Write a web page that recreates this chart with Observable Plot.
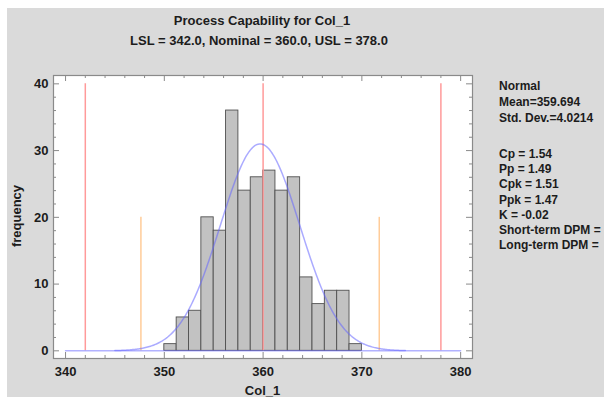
<!DOCTYPE html>
<html><head><meta charset="utf-8">
<script src="https://cdn.jsdelivr.net/npm/d3@7"></script>
<script src="https://cdn.jsdelivr.net/npm/@observablehq/plot@0.6"></script>
<style>
html,body{margin:0;padding:0;background:#fff;width:604px;height:397px;overflow:hidden;position:relative;}
#bg{position:absolute;left:7px;top:8px;width:597px;height:389px;background:#dadada;}
#chart{position:absolute;left:0;top:0;}
.t{position:absolute;font-family:"Liberation Sans",Arial,sans-serif;font-weight:bold;color:#1c1c1c;white-space:nowrap;}
.title{left:0;width:524px;text-align:center;font-size:13px;line-height:16px;}
.leg{left:499px;font-size:12px;line-height:15px;}
</style></head><body>
<div id="bg"></div>
<div id="chart"></div>
<div id="txt"></div>
<script>
// ---- data ----
const binEdges = [350, 351.25, 352.5, 353.75, 355, 356.25, 357.5, 358.75, 360, 361.25, 362.5, 363.75, 365, 366.25, 367.5, 368.75, 370];
const counts   = [1, 5, 6, 20, 18, 36, 24, 26, 27, 24, 26, 11, 7, 9, 9, 1];
const specX    = [342, 360, 378];      // LSL, Nominal, USL
const specTop  = [40, 40, 40];
const sigmaX   = [347.63, 371.76];     // mean -/+ 3 sigma
const sigmaTop = [20, 20];
const fitMean = 359.694, fitSD = 4.0214, nObs = 250, binWidth = 1.25;
const xTicks = [340, 350, 360, 370, 380];
const yTicks = [0, 10, 20, 30, 40];
const titleLines = ["Process Capability for Col_1", "LSL = 342.0, Nominal = 360.0, USL = 378.0"];
const legendTop = ["Normal", "Mean=359.694", "Std. Dev.=4.0214"];
const legendBottom = ["Cp = 1.54", "Pp = 1.49", "Cpk = 1.51", "Ppk = 1.47", "K = -0.02", "Short-term DPM =", "Long-term DPM ="];
const xLabel = "Col_1", yLabel = "frequency";

// ---- derived tables ----
const bars = counts.map((c, i) => ({x1: binEdges[i], x2: binEdges[i + 1], y: c}));
const specs = specX.map((x, i) => ({x, top: specTop[i]}));
const sigmas = sigmaX.map((x, i) => ({x, top: sigmaTop[i]}));
// fitted normal density (scaled to counts), defined by the legend's mean / sd
const curvePts = d3.range(345, 374.4 + 1e-9, 0.1).map(x => ({
  x, y: nObs * binWidth / (fitSD * Math.sqrt(2 * Math.PI)) * Math.exp(-((x - fitMean) ** 2) / (2 * fitSD * fitSD))
}));
const baseLine = [{x: 340, y: 0}, {x: 380, y: 0}];

const W = 604, H = 397;
const mL = 53, mR = W - 472, mT = 75, mB = H - 358;
const pW = W - mL - mR, pH = H - mT - mB;
const yMinor = d3.range(0, 41, 2).filter(v => v % 10 !== 0);
const xMinor = d3.range(340, 381, 2).filter(v => v % 10 !== 0);
const tc = "#8a8a8a";
const font = "Liberation Sans, Arial, sans-serif";

const chart = Plot.plot({
  width: W, height: H,
  marginLeft: mL, marginRight: mR, marginTop: mT, marginBottom: mB,
  style: {background: "transparent", fontFamily: font, maxWidth: "none"},
  x: {domain: [338.78, 381.2], axis: null},
  y: {domain: [-1.15, 41.25], axis: null},
  marks: [
    Plot.frame({fill: "white", stroke: "none"}),
    Plot.rectY(bars, {x1: "x1", x2: "x2", y: "y", fill: "#c2c2c2", stroke: "#505050", strokeWidth: 0.9}),
    Plot.ruleX(specs, {x: "x", y1: 0, y2: "top", stroke: "#ff9a9a", strokeWidth: 1.5}),
    Plot.ruleX(sigmas, {x: "x", y1: 0, y2: "top", stroke: "#ffcc99", strokeWidth: 1.5}),
    Plot.line(baseLine, {x: "x", y: "y", stroke: "#6666ff", strokeOpacity: 0.5, strokeWidth: 1.5}),
    Plot.line(curvePts, {x: "x", y: "y", stroke: "#6666ff", strokeOpacity: 0.55, strokeWidth: 1.5}),
    // inward ticks, all four sides
    Plot.tickY(yTicks, {y: d => d, stroke: tc, insetRight: pW - 6}),
    Plot.tickY(yMinor, {y: d => d, stroke: tc, insetRight: pW - 3}),
    Plot.tickY(yTicks, {y: d => d, stroke: tc, insetLeft: pW - 6}),
    Plot.tickY(yMinor, {y: d => d, stroke: tc, insetLeft: pW - 3}),
    Plot.tickX(xTicks, {x: d => d, stroke: tc, insetTop: pH - 6}),
    Plot.tickX(xMinor, {x: d => d, stroke: tc, insetTop: pH - 3}),
    Plot.tickX(xTicks, {x: d => d, stroke: tc, insetBottom: pH - 6}),
    Plot.tickX(xMinor, {x: d => d, stroke: tc, insetBottom: pH - 3}),
    Plot.frame({stroke: "#8a8a8a", strokeWidth: 1.2}),
    // tick labels
    Plot.text(xTicks, {x: d => d, frameAnchor: "bottom", dy: 13, lineAnchor: "middle", text: d => String(d),
      fontSize: 13, fontWeight: "bold", fill: "#1c1c1c"}),
    Plot.text(yTicks, {y: d => d, frameAnchor: "left", dx: -5, textAnchor: "end", text: d => String(d),
      fontSize: 13, fontWeight: "bold", fill: "#1c1c1c"})
  ]
});
document.getElementById("chart").appendChild(chart);

// ---- text outside the plot area ----
const txt = document.getElementById("txt");
function add(cls, text, style) {
  const d = document.createElement("div");
  d.className = "t " + cls;
  d.textContent = text;
  Object.assign(d.style, style);
  txt.appendChild(d);
}
add("title", titleLines[0], {top: "13px", left: "0px"});
add("title", titleLines[1], {top: "33px", left: "-3px"});
legendTop.forEach((s, i) => add("leg", s, {top: (79 + i * 15.8) + "px"}));
legendBottom.forEach((s, i) => add("leg", s, {top: (147 + i * 15.2) + "px"}));
add("", xLabel, {left: "0px", width: "525px", textAlign: "center", fontSize: "13px", lineHeight: "16px", top: "383px"});
add("", yLabel, {left: "17px", top: "216px", fontSize: "13px", lineHeight: "16px",
  transform: "translate(-50%,-50%) rotate(-90deg)"});
</script>
</body></html>
